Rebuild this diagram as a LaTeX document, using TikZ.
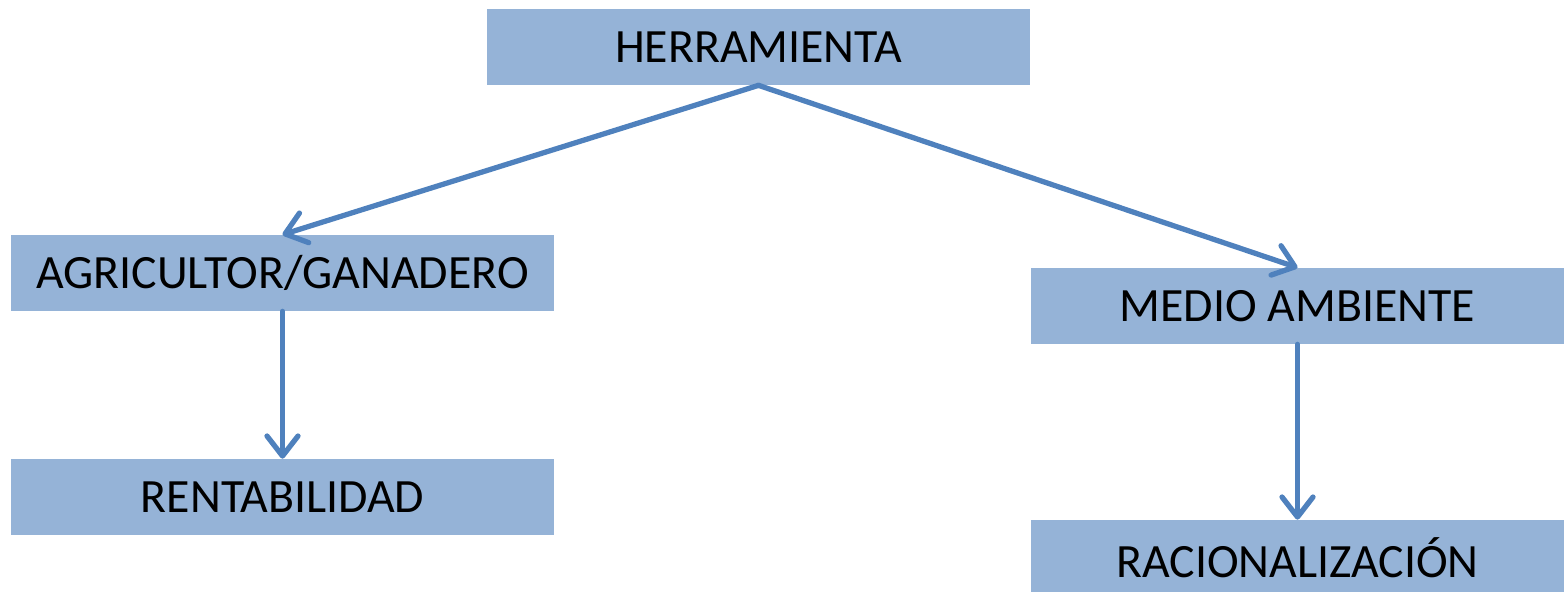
\documentclass[tikz,border=0pt]{standalone}
\usepackage{fontspec}
\setmainfont{Carlito}
\usetikzlibrary{arrows.meta,positioning,calc}
\definecolor{boxblue}{HTML}{95B3D7}
\definecolor{lineblue}{HTML}{4F81BD}

\begin{document}
\begin{tikzpicture}[
    every node/.style={
        rectangle,
        fill=boxblue,
        inner sep=0pt,
        minimum height=1.52cm,
        font=\fontsize{27.2}{32}\selectfont
    },
    link/.style={
        draw=lineblue,
        line width=3pt,
        line cap=round,
        -{Straight Barb[length=0.4cm,width=0.62cm,line width=3pt,line cap=round,line join=round]}
    }
]
\useasboundingbox (0,0) rectangle (31.3,-11.84);

% ---------------- Boxes ----------------
\node[minimum width=10.86cm] (herr) at (15.17,-0.94) {HERRAMIENTA};
\node[minimum width=10.86cm] (agri) at (5.65,-5.46) {AGRICULTOR/GANADERO};
\node[minimum width=10.86cm] (rent) at (5.65,-9.94) {RENTABILIDAD};
\node[minimum width=10.66cm] (medio) at (25.95,-6.12) {MEDIO AMBIENTE};
\node[minimum width=10.66cm] (racio) at (25.95,-11.16) {RACIONALIZACIÓN};

% ---------------- Arrows ----------------
\draw[link] (herr.south) -- (agri.north);
\draw[link] (herr.south) -- (medio.north);
\draw[link] (agri.south) -- (rent.north);
\draw[link] (medio.south) -- (racio.north);

\end{tikzpicture}
\end{document}
